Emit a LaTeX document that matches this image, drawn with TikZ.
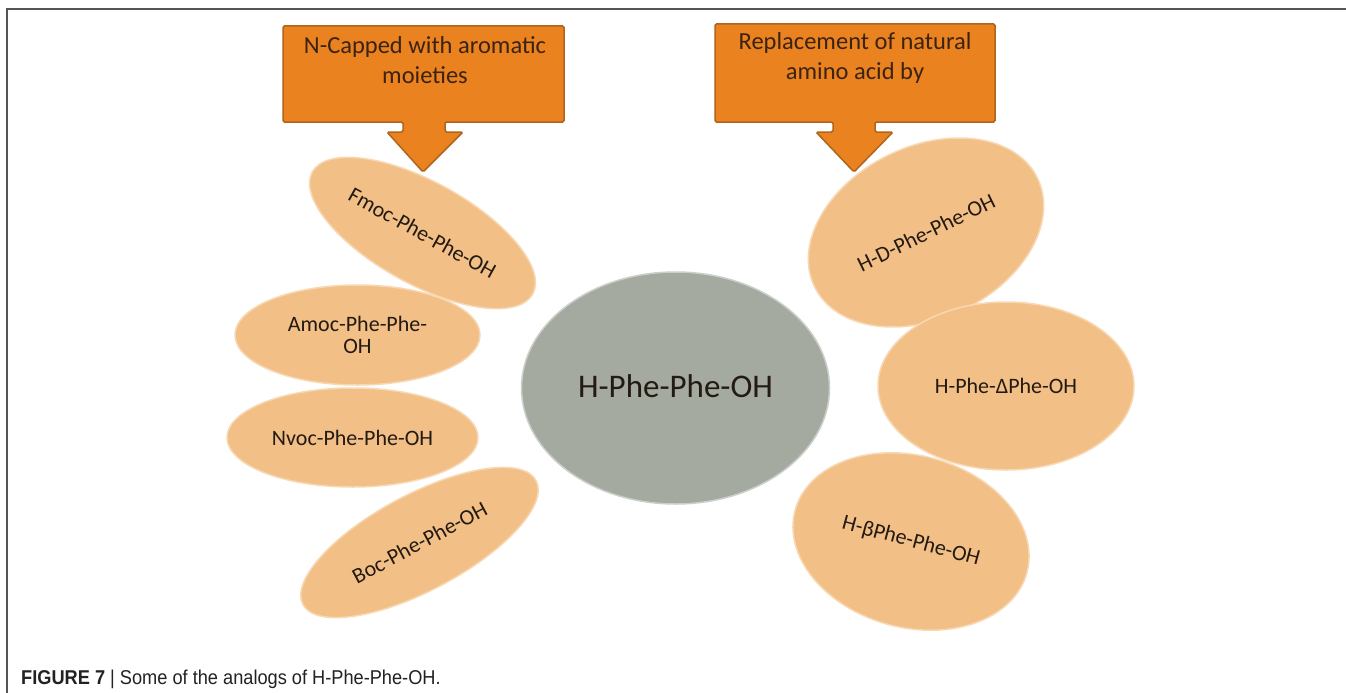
\documentclass[tikz,border=0pt]{standalone}
\usepackage{fontspec}
\setmainfont{Carlito}
\newfontfamily\capfont{Liberation Sans}
\usetikzlibrary{shapes.geometric}
\definecolor{boxfill}{HTML}{E9821F}
\definecolor{boxborder}{HTML}{B0641C}
\definecolor{boxtext}{HTML}{3B2314}
\definecolor{ellfill}{HTML}{F2BF87}
\definecolor{ellborder}{HTML}{F7D8B2}
\definecolor{grayfill}{HTML}{A4AAA0}
\definecolor{grayborder}{HTML}{CBCFC9}
\definecolor{labeltext}{HTML}{231A12}
\definecolor{framecol}{HTML}{555555}
\definecolor{captext}{HTML}{222222}
\tikzset{
  ell/.style={ellipse, draw=ellborder, line width=1.5pt, fill=ellfill, inner sep=0pt,
    font=\fontsize{22}{22.5}\selectfont, text=labeltext, align=center},
  grayell/.style={ellipse, draw=grayborder, line width=1.5pt, fill=grayfill, inner sep=0pt,
    font=\fontsize{33}{36}\selectfont, text=labeltext},
  calloutshape/.style={fill=boxfill, draw=boxborder, line width=1.5pt, rounded corners=1.5pt},
  callouttext/.style={font=\fontsize{24.5}{30}\selectfont, text=boxtext, align=center, inner sep=0pt}
}
\begin{document}
\begin{tikzpicture}[x=1pt,y=-1pt]
\useasboundingbox (0,0) rectangle (1346,693);
\fill[white] (0,0) rectangle (1346,693);
% frame
\coordinate (fa) at (7,693);
\coordinate (fb) at (7,9);
\coordinate (fc) at (1346,9);
\draw[framecol, line width=2pt] (fa) -- (fb) -- (fc);

% ellipses left
\node[ell, minimum width=252pt, minimum height=102pt, rotate=-29] (fmoc) at (422.5,233) {Fmoc-Phe-Phe-OH};
\node[ell, minimum width=245pt, minimum height=100pt] (amoc) at (357.5,335) {Amoc-Phe-Phe-\\OH};
\node[ell, minimum width=251pt, minimum height=99pt] (nvoc) at (352.5,437.5) {Nvoc-Phe-Phe-OH};
\node[ell, minimum width=264pt, minimum height=96pt, rotate=28] (boc) at (419.5,542.5) {Boc-Phe-Phe-OH};

% central
\node[grayell, minimum width=308pt, minimum height=232pt] (hpp) at (675.5,388) {\raisebox{3pt}{H-Phe-Phe-OH}};

% ellipses right
\node[ell, minimum width=248pt, minimum height=172pt, rotate=26] (hd) at (926,232.5) {H-D-Phe-Phe-OH};
\node[ell, minimum width=256pt, minimum height=168pt] (hdelta) at (1006,386) {H-Phe-ΔPhe-OH};
\node[ell, minimum width=240pt, minimum height=172pt, rotate=-15] (hbeta) at (911,541.5) {H-βPhe-Phe-OH};

% callouts
\draw[calloutshape] (283,26) -- (564,26) -- (564,122) -- (445,122) -- (445,132) -- (463,132)
  -- (423,172) -- (387,132) -- (403,132) -- (403,122) -- (283,122) -- cycle;
\node[callouttext] (ncap) at (425,60) {N-Capped with aromatic\\moieties};

\draw[calloutshape] (715,24) -- (995,24) -- (995,122) -- (875,122) -- (875,132) -- (893,132)
  -- (854,172) -- (816,132) -- (833,132) -- (833,122) -- (715,122) -- cycle;
\node[callouttext] (repl) at (855,58) {Replacement of natural\\amino acid by};

% caption
\node[anchor=base west, inner sep=0pt, font=\capfont\fontsize{20}{24}\selectfont, text=captext] (cap) at (21,684)
  {\scalebox{0.91}[1]{\textbf{FIGURE 7} | Some of the analogs of H-Phe-Phe-OH.}};
\end{tikzpicture}
\end{document}
